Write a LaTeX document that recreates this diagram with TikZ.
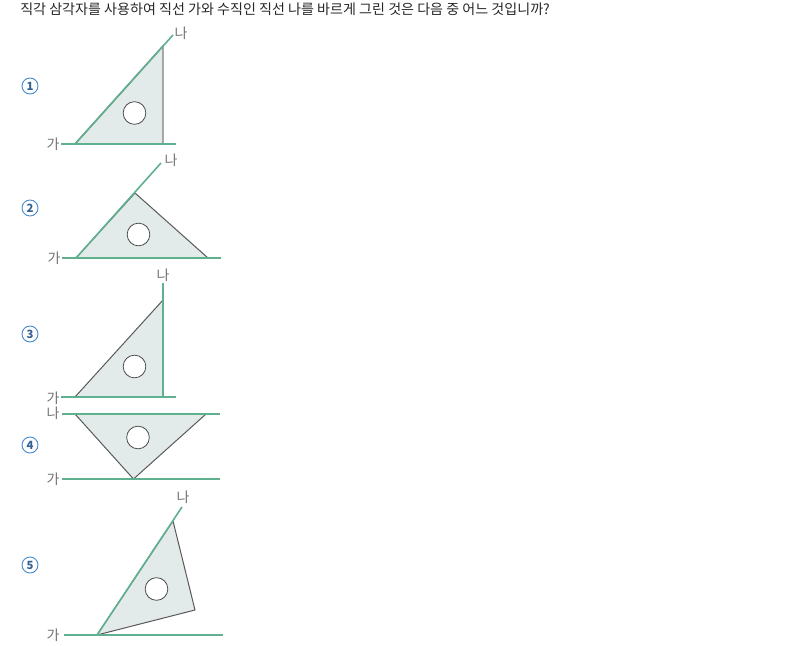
\documentclass[tikz,border=0pt]{standalone}
\usepackage{fontspec}
\setmainfont{Noto Sans CJK KR}
\usepackage{tikz}
\definecolor{lnG}{HTML}{5FB08E}
\definecolor{triF}{HTML}{E2EBEA}
\definecolor{numB}{HTML}{4A8AD0}
\tikzset{
  tri/.style   = {draw=black!65, fill=triF, line width=0.75pt, line join=round},
  gl/.style    = {draw=lnG, line width=1.2pt},
  hole/.style  = {draw=black!70, fill=white, circle, inner sep=0pt, minimum size=17pt, line width=0.6pt},
  lab/.style   = {font=\fontsize{10.5}{10.5}\selectfont, text=black!55, inner sep=0pt},
  num/.style   = {draw=numB, circle, inner sep=0pt, minimum size=12pt, line width=0.7pt,
                  font=\fontsize{8.5}{8.5}\selectfont\bfseries, text=numB!70!black},
}
\begin{document}
\begin{tikzpicture}[x=0.75pt, y=-0.75pt]
\useasboundingbox (0,0) rectangle (805,645);
\node[anchor=west, inner sep=0pt, font=\fontsize{10.55}{11}\selectfont, text=black!85] (qq) at (20,9.5)
  {직각 삼각자를 사용하여 직선 가와 수직인 직선 나를 바르게 그린 것은 다음 중 어느 것입니까?};

% (1)
\node[num] (n1) at (30,86) {1};
\node[lab] (ga1) at (53,144) {가};
\node[lab] (na1) at (181,33.5) {나};
\coordinate (a1) at (75,144);
\coordinate (b1) at (163,46);
\coordinate (c1) at (163,144);
\coordinate (d1) at (61,144);
\coordinate (e1) at (176,144);
\coordinate (f1) at (173,35);
\draw[tri, draw=black!50, line width=1.1pt] (a1)--(b1)--(c1)--cycle;
\node[hole] (h1) at (134.5,113) {};
\draw[gl] (d1)--(e1);
\draw[gl] (a1)--(f1);

% (2)
\node[num] (n2) at (30,208) {2};
\node[lab] (ga2) at (54,258.5) {가};
\node[lab] (na2) at (171,160.5) {나};
\coordinate (a2) at (76,258);
\coordinate (b2) at (135,193);
\coordinate (c2) at (208,258);
\coordinate (d2) at (62,258);
\coordinate (e2) at (221,258);
\coordinate (f2) at (161,163);
\draw[tri] (a2)--(b2)--(c2)--cycle;
\node[hole] (h2) at (138.5,234.5) {};
\draw[gl] (d2)--(e2);
\draw[gl] (a2)--(f2);

% (3)
\node[num] (n3) at (30,334) {3};
\node[lab] (ga3) at (53,398) {가};
\node[lab] (na3) at (163,275.5) {나};
\coordinate (a3) at (75,397);
\coordinate (b3) at (163,300);
\coordinate (c3) at (163,397);
\coordinate (d3) at (61,397);
\coordinate (e3) at (176,397);
\coordinate (f3) at (163,283);
\draw[tri] (a3)--(b3)--(c3)--cycle;
\node[hole] (h3) at (134.5,366.5) {};
\draw[gl] (d3)--(e3);
\draw[gl] (c3)--(f3);

% (4)
\node[num] (n4) at (30,445) {4};
\node[lab] (na4) at (53,413.5) {나};
\node[lab] (ga4) at (53,479.5) {가};
\coordinate (a4) at (75,414);
\coordinate (b4) at (206,414);
\coordinate (c4) at (133.5,479);
\coordinate (d4) at (62,414);
\coordinate (e4) at (220,414);
\coordinate (g4) at (62,479);
\coordinate (f4) at (220,479);
\draw[tri] (a4)--(b4)--(c4)--cycle;
\node[hole] (h4) at (138,437.5) {};
\draw[gl] (d4)--(e4);
\draw[gl] (g4)--(f4);

% (5)
\node[num] (n5) at (30,565) {5};
\node[lab] (ga5) at (53,635.5) {가};
\node[lab] (na5) at (183,497.5) {나};
\coordinate (a5) at (97,635);
\coordinate (b5) at (173,521);
\coordinate (c5) at (195,610);
\coordinate (d5) at (64,635);
\coordinate (e5) at (223,635);
\coordinate (f5) at (182,507);
\draw[tri] (a5)--(b5)--(c5)--cycle;
\node[hole] (h5) at (156.5,589) {};
\draw[gl] (d5)--(e5);
\draw[gl] (a5)--(f5);
\end{tikzpicture}
\end{document}
